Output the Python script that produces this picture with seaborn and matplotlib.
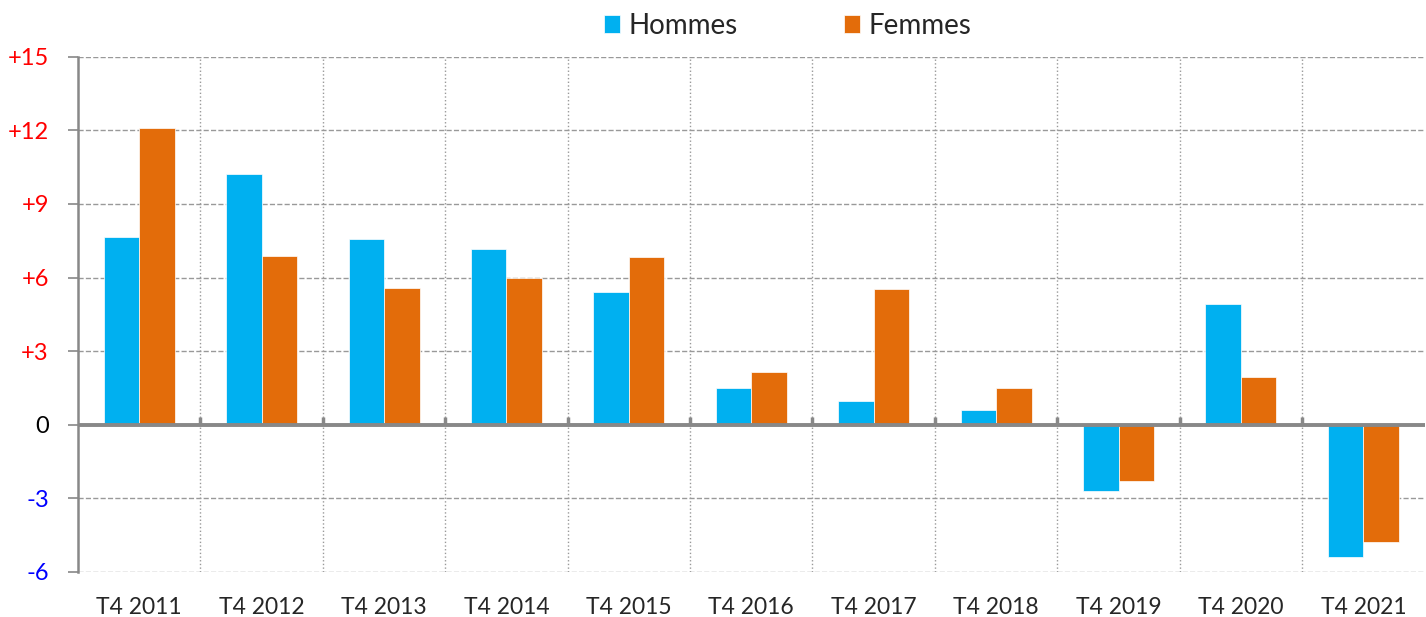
import numpy as np
import pandas as pd
import matplotlib
matplotlib.use("Agg")
import matplotlib.pyplot as plt
import seaborn as sns

# donnees
periodes = ["T4 2011", "T4 2012", "T4 2013", "T4 2014", "T4 2015", "T4 2016",
            "T4 2017", "T4 2018", "T4 2019", "T4 2020", "T4 2021"]
hommes = [7.66, 10.22, 7.57, 7.16, 5.41, 1.50, 0.97, 0.60, -2.70, 4.92, -5.40]
femmes = [12.10, 6.88, 5.57, 5.98, 6.84, 2.15, 5.53, 1.50, -2.28, 1.95, -4.78]
yticks = [-6, -3, 0, 3, 6, 9, 12, 15]

df = pd.DataFrame({
    "Periode": periodes * 2,
    "Valeur": hommes + femmes,
    "Sexe": ["Hommes"] * len(periodes) + ["Femmes"] * len(periodes),
})

sns.set_style("white")
plt.rcParams["font.family"] = ["Lato", "DejaVu Sans"]

fig = plt.figure(figsize=(14.26, 6.17), dpi=100)
ax = fig.add_axes([0.0547, 0.073, 0.9443, 0.835])

sns.barplot(data=df, x="Periode", y="Valeur", hue="Sexe", order=periodes,
            palette={"Hommes": "#00B0F0", "Femmes": "#E36C0A"},
            width=0.58, saturation=1, linewidth=0.5, edgecolor="white",
            ax=ax, zorder=3)

ax.set_xlim(-0.5, len(periodes) - 0.5)
ax.set_ylim(-6, 15)
ax.set_yticks(yticks)
labels = [f"+{v}" if v > 0 else str(v) for v in yticks]
ax.set_yticklabels(labels, fontsize=17)
for lab, v in zip(ax.get_yticklabels(), yticks):
    lab.set_color("red" if v > 0 else ("blue" if v < 0 else "black"))

ax.tick_params(axis="y", length=7, width=1.2, color="#888888", pad=14, direction="out", left=True)
ax.tick_params(axis="x", length=0, labelsize=16.5, pad=18)
ax.set_xlabel("")
ax.set_ylabel("")

# grilles
ax.grid(axis="y", linestyle="--", color="#999999", linewidth=1, zorder=0)
bornes = np.arange(len(periodes) - 1) + 0.5
ax.set_xticks(bornes, minor=True)
ax.grid(axis="x", which="minor", linestyle=":", color="#999999", linewidth=1, zorder=0)
ax.tick_params(axis="x", which="minor", length=0)

for s in ["top", "right", "bottom"]:
    ax.spines[s].set_visible(False)
ax.spines["left"].set_color("#888888")
ax.spines["left"].set_linewidth(1.8)

ax.axhline(0, color="#888888", linewidth=2.8, zorder=4)
ax.vlines(bornes, 0, 0.3, color="#888888", linewidth=2.5, zorder=4)

leg = ax.legend(loc="lower center", bbox_to_anchor=(0.527, 1.0), ncol=2, frameon=False,
                fontsize=20, handlelength=0.6, handleheight=0.6, handletextpad=0.3,
                columnspacing=3.8, borderaxespad=0.25)

plt.savefig("out.png", dpi=100)
